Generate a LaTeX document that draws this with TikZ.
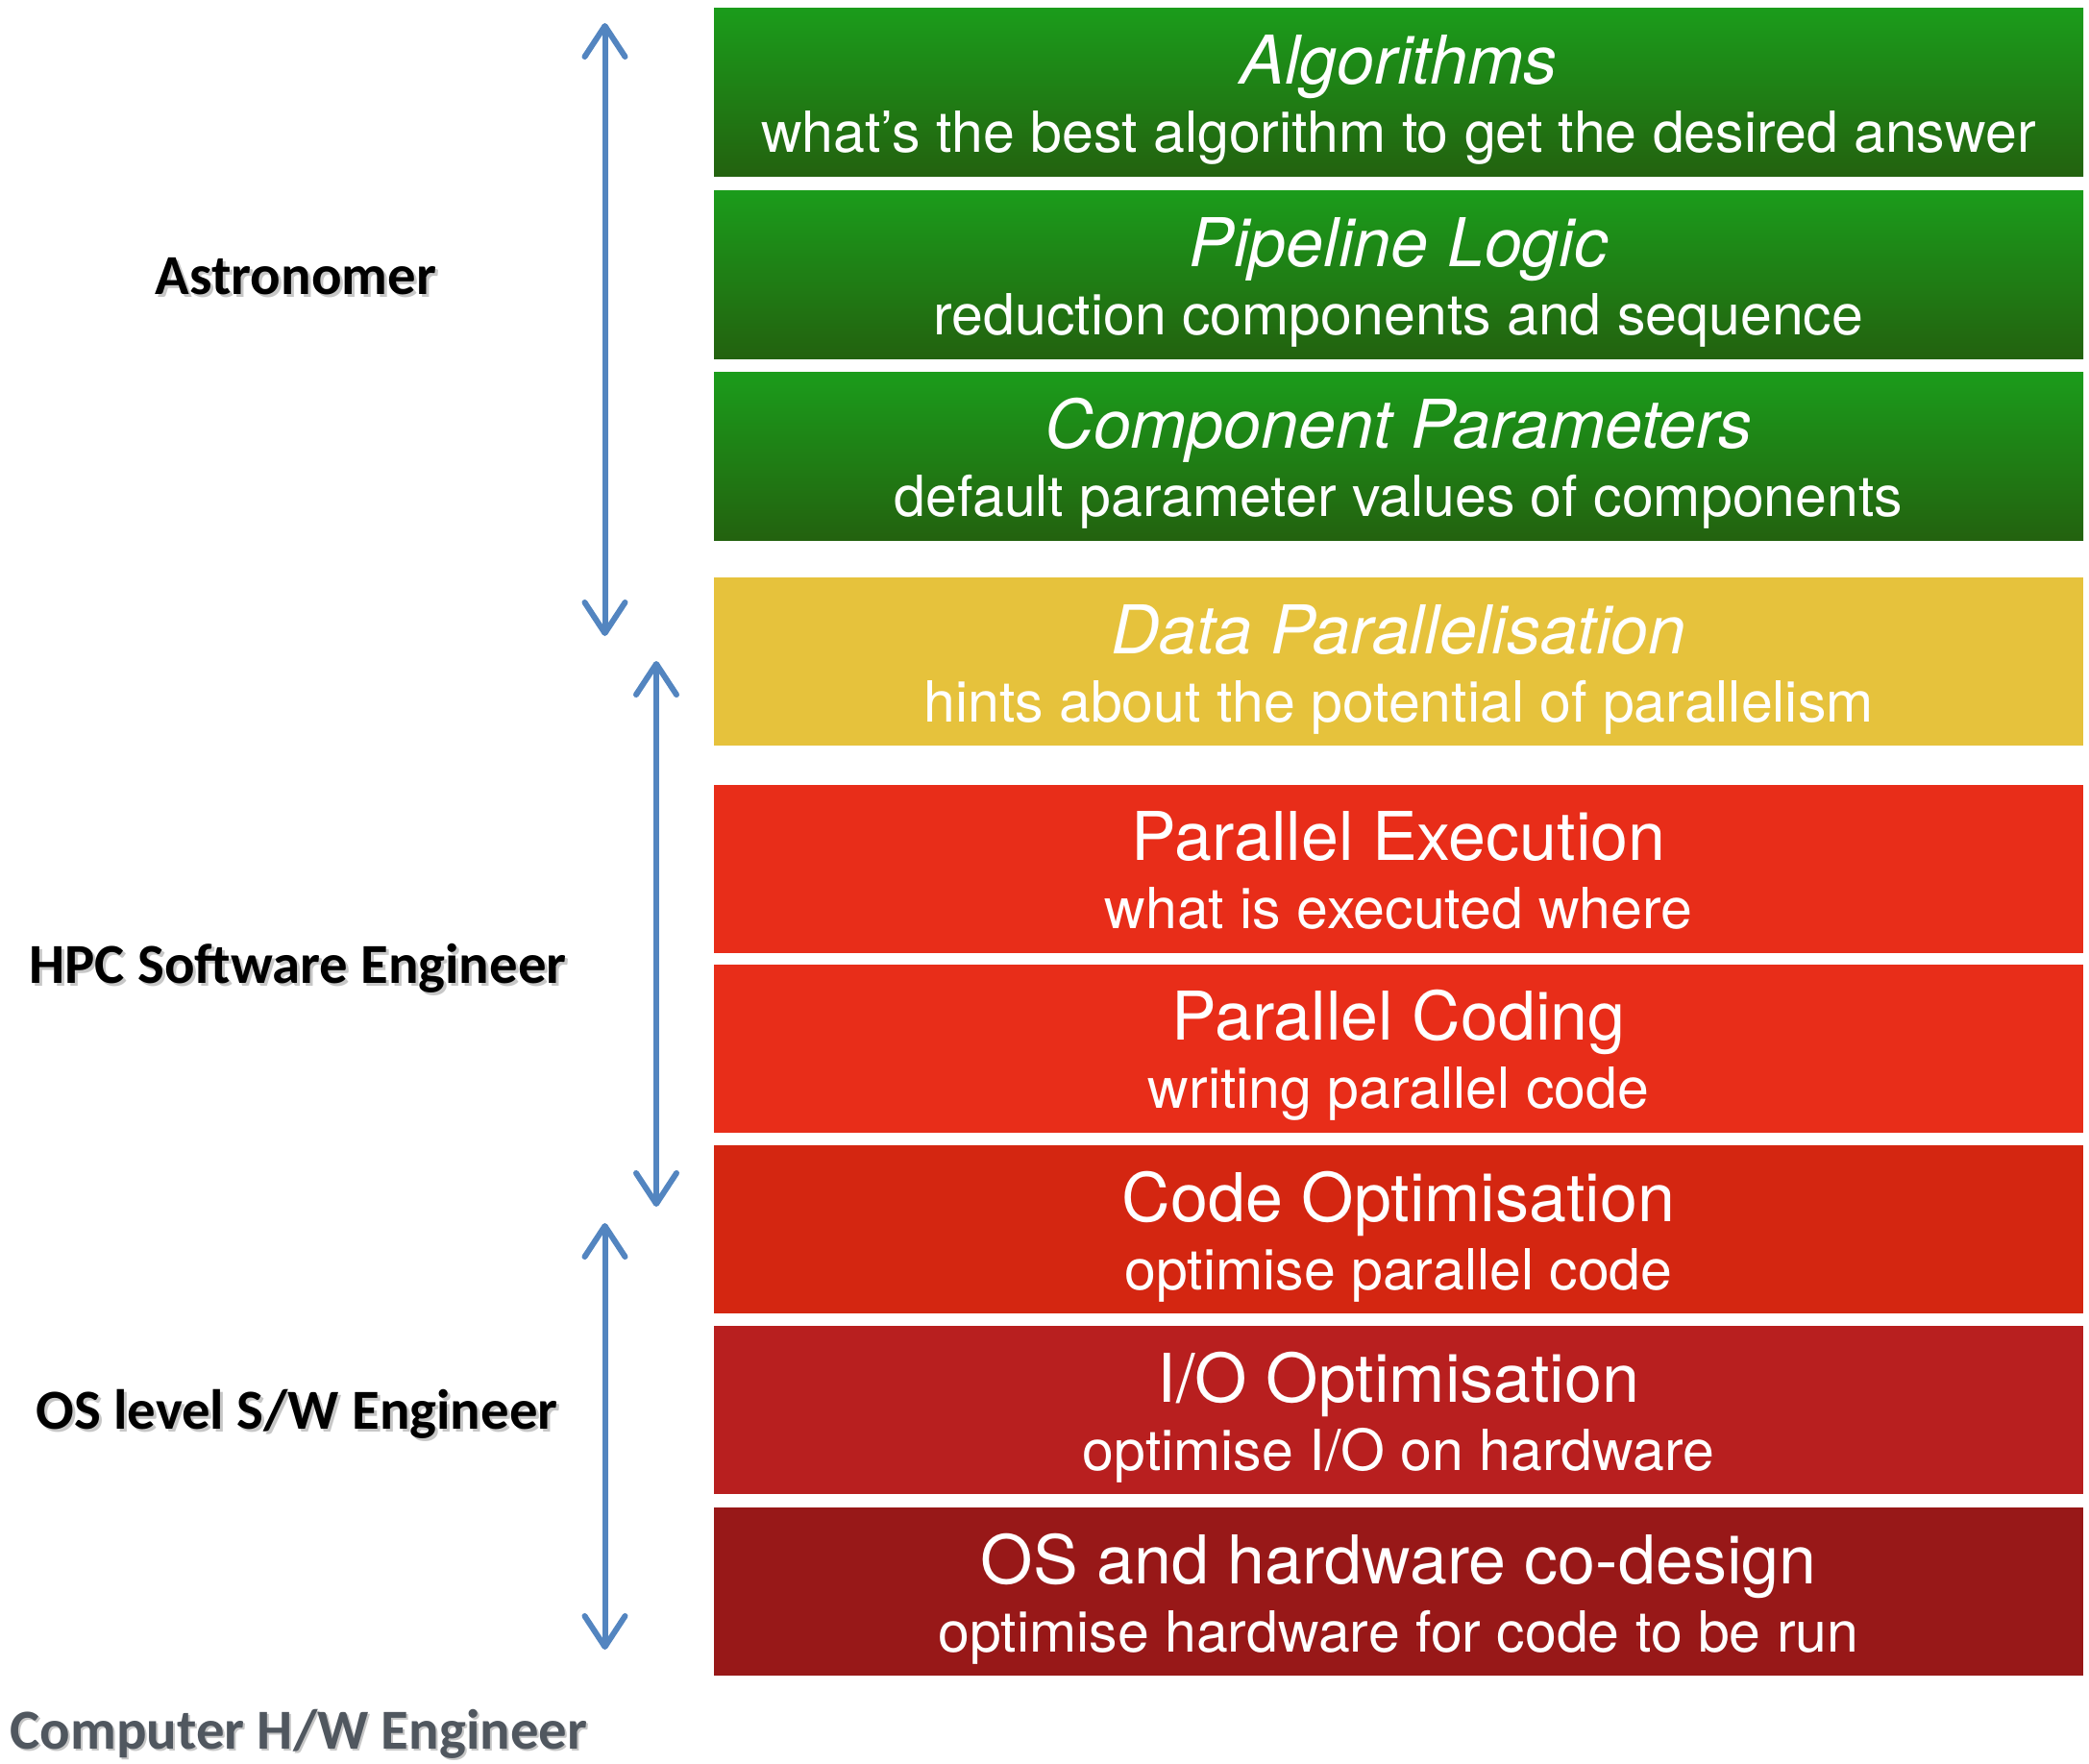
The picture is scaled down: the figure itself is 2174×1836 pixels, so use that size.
\documentclass[tikz,border=0pt]{standalone}
\usepackage{fontspec}
\setmainfont{TeX Gyre Heros}
\newfontfamily\labfont{Carlito}
\usetikzlibrary{arrows.meta}
\definecolor{gtop}{HTML}{1B9C1B}
\definecolor{gbot}{HTML}{23620F}
\definecolor{yel}{HTML}{E6C23C}
\definecolor{redA}{HTML}{E82D19}
\definecolor{redB}{HTML}{D42611}
\definecolor{redC}{HTML}{B81F1F}
\definecolor{redD}{HTML}{981818}
\definecolor{arr}{HTML}{5385C0}
\definecolor{hwgray}{HTML}{50575F}
\begin{document}
\begin{tikzpicture}[x=0.5pt,y=-0.5pt,
 layer/.style={draw=none, minimum width=712.5pt, minimum height=87.5pt, inner sep=0pt, outer sep=0pt, anchor=north west},
 greenlayer/.style={layer, top color=gtop, bottom color=gbot},
 ttl/.style={text=white, font=\fontsize{35}{40}\selectfont, anchor=base, inner sep=0pt},
 sub/.style={text=white, font=\fontsize{29.5}{34}\selectfont, anchor=base, inner sep=0pt},
 role/.style={font=\labfont\bfseries\fontsize{29.4}{34}\selectfont, anchor=base, inner sep=0pt},
 roleshadow/.style={role, text=black!22},
 span/.style={draw=arr, line width=3pt,
   {Straight Barb[length=16pt,width=21pt,line cap=round,line join=round]}-{Straight Barb[length=16pt,width=21pt,line cap=round,line join=round]}}
]
\useasboundingbox (0,0) rectangle (2174,1836);

% layers
\node[greenlayer] (b1) at (743,8.5) {};
\node[greenlayer] (b2) at (743,198) {};
\node[greenlayer] (b3) at (743,387) {};
\node[layer, fill=yel] (b4) at (743,601) {};
\node[layer, fill=redA] (b5) at (743,816.5) {};
\node[layer, fill=redA] (b6) at (743,1003.5) {};
\node[layer, fill=redB] (b7) at (743,1192) {};
\node[layer, fill=redC] (b8) at (743,1380) {};
\node[layer, fill=redD] (b9) at (743,1569) {};

% texts
\node[ttl] (t1) at (1455.5,87.5) {\itshape Algorithms};
\node[sub] (s1) at (1455.5,158.5) {what’s the best algorithm to get the desired answer};
\node[ttl] (t2) at (1455.5,277) {\itshape Pipeline Logic};
\node[sub] (s2) at (1455.5,348) {reduction components and sequence};
\node[ttl] (t3) at (1455.5,466) {\itshape Component Parameters};
\node[sub] (s3) at (1455.5,537) {default parameter values of components};
\node[ttl] (t4) at (1455.5,680) {\itshape Data Parallelisation};
\node[sub] (s4) at (1455.5,751) {hints about the potential of parallelism};
\node[ttl] (t5) at (1455.5,895.5) {Parallel Execution};
\node[sub] (s5) at (1455.5,966.5) {what is executed where};
\node[ttl] (t6) at (1455.5,1082.5) {Parallel Coding};
\node[sub] (s6) at (1455.5,1153.5) {writing parallel code};
\node[ttl] (t7) at (1455.5,1271) {Code Optimisation};
\node[sub] (s7) at (1455.5,1342) {optimise parallel code};
\node[ttl] (t8) at (1455.5,1459) {I/O Optimisation};
\node[sub] (s8) at (1455.5,1530) {optimise I/O on hardware};
\node[ttl] (t9) at (1455.5,1648) {OS and hardware co-design};
\node[sub] (s9) at (1455.5,1719) {optimise hardware for code to be run};

% role labels
\node[roleshadow] (r1s) at (311,309) {Astronomer};
\node[role] (r1) at (308,306) {Astronomer};
\node[roleshadow] (r2s) at (313,1026) {HPC Software Engineer};
\node[role] (r2) at (310,1023) {HPC Software Engineer};
\node[roleshadow] (r3s) at (312,1490) {OS level S/W Engineer};
\node[role] (r3) at (309,1487) {OS level S/W Engineer};
\node[roleshadow] (r4s) at (313,1822) {Computer H/W Engineer};
\node[role, text=hwgray] (r4) at (311,1820) {Computer H/W Engineer};

% span arrows
\coordinate (a1top) at (629.5,24);
\coordinate (a1bot) at (629.5,662);
\coordinate (a2top) at (683,688);
\coordinate (a2bot) at (683,1256);
\coordinate (a3top) at (629.5,1273);
\coordinate (a3bot) at (629.5,1717);
\draw[span] (a1top) -- (a1bot);
\draw[span] (a2top) -- (a2bot);
\draw[span] (a3top) -- (a3bot);
\end{tikzpicture}
\end{document}
